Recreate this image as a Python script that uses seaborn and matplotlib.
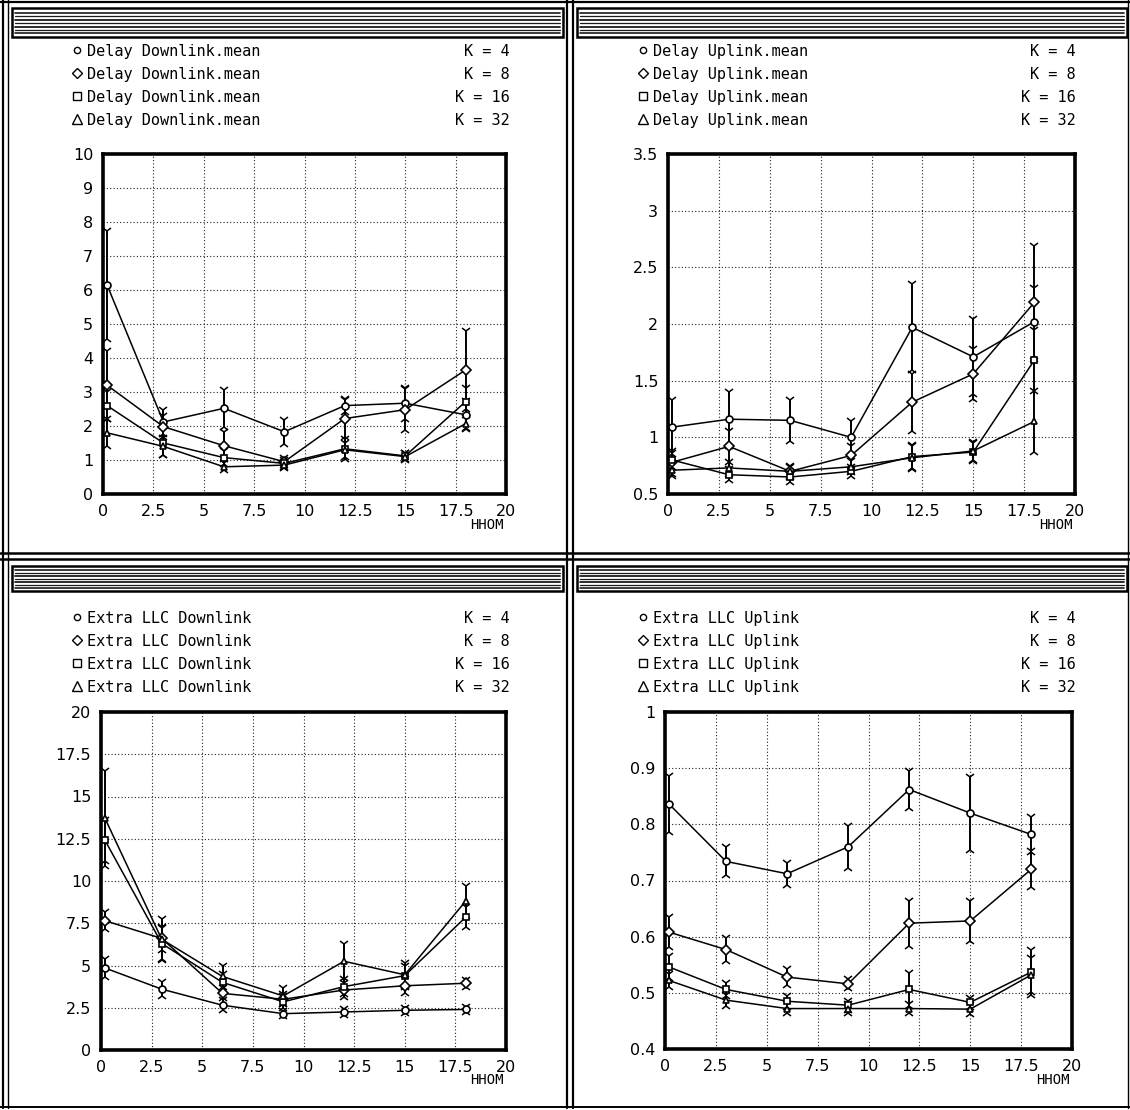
import numpy as np
import pandas as pd
import matplotlib
matplotlib.use("Agg")
import matplotlib.pyplot as plt
import seaborn as sns
from matplotlib.lines import Line2D
from matplotlib.patches import Rectangle

# ---------------------------------------------------------------- data
hhom = [0.2, 3, 6, 9, 12, 15, 18]
k_values = [4, 8, 16, 32]
x_ticks = [0, 2.5, 5, 7.5, 10, 12.5, 15, 17.5, 20]
x_tick_labels = ["0", "2.5", "5", "7.5", "10", "12.5", "15", "17.5", "20"]

# Delay Downlink.mean (mean and half-width of the confidence interval)
delay_dl = {
    4:  [6.15, 2.12, 2.52, 1.83, 2.60, 2.67, 2.33],
    8:  [3.20, 1.98, 1.42, 0.95, 2.22, 2.48, 3.65],
    16: [2.60, 1.50, 1.07, 0.90, 1.33, 1.12, 2.72],
    32: [1.80, 1.40, 0.80, 0.85, 1.30, 1.10, 2.07],
}
delay_dl_err = {
    4:  [1.60, 0.35, 0.55, 0.35, 0.20, 0.45, 0.40],
    8:  [1.00, 0.30, 0.40, 0.10, 0.55, 0.60, 1.15],
    16: [0.40, 0.35, 0.20, 0.10, 0.30, 0.10, 0.40],
    32: [0.40, 0.25, 0.10, 0.08, 0.20, 0.10, 0.17],
}

# Delay Uplink.mean
delay_ul = {
    4:  [1.09, 1.16, 1.15, 1.00, 1.97, 1.71, 2.02],
    8:  [0.78, 0.92, 0.70, 0.84, 1.31, 1.56, 2.19],
    16: [0.80, 0.67, 0.65, 0.70, 0.83, 0.87, 1.68],
    32: [0.71, 0.73, 0.70, 0.74, 0.82, 0.88, 1.14],
}
delay_ul_err = {
    4:  [0.24, 0.24, 0.18, 0.14, 0.38, 0.33, 0.30],
    8:  [0.10, 0.14, 0.05, 0.08, 0.25, 0.22, 0.50],
    16: [0.06, 0.05, 0.04, 0.04, 0.10, 0.08, 0.27],
    32: [0.05, 0.05, 0.04, 0.05, 0.10, 0.08, 0.27],
}

# Extra LLC Downlink
llc_dl = {
    4:  [4.85, 3.60, 2.65, 2.15, 2.25, 2.35, 2.40],
    8:  [7.65, 6.60, 3.35, 3.00, 3.55, 3.80, 3.95],
    16: [12.4, 6.30, 4.00, 2.85, 3.75, 4.40, 7.85],
    32: [13.7, 6.55, 4.35, 3.20, 5.25, 4.45, 8.80],
}
llc_dl_err = {
    4:  [0.55, 0.40, 0.30, 0.15, 0.15, 0.15, 0.15],
    8:  [0.50, 0.70, 0.30, 0.30, 0.40, 0.40, 0.20],
    16: [1.20, 0.90, 0.50, 0.35, 0.45, 0.60, 0.60],
    32: [2.80, 1.20, 0.60, 0.45, 1.00, 0.70, 0.90],
}

# Extra LLC Uplink
llc_ul = {
    4:  [0.836, 0.734, 0.712, 0.760, 0.862, 0.820, 0.782],
    8:  [0.608, 0.577, 0.528, 0.516, 0.624, 0.628, 0.720],
    16: [0.546, 0.506, 0.485, 0.478, 0.506, 0.483, 0.537],
    32: [0.522, 0.487, 0.472, 0.472, 0.472, 0.471, 0.532],
}
llc_ul_err = {
    4:  [0.050, 0.025, 0.020, 0.037, 0.033, 0.065, 0.031],
    8:  [0.027, 0.020, 0.014, 0.008, 0.040, 0.035, 0.032],
    16: [0.020, 0.012, 0.010, 0.008, 0.030, 0.008, 0.040],
    32: [0.012, 0.010, 0.008, 0.008, 0.008, 0.008, 0.030],
}

panels = [
    # (series label, means, errors, y ticks, y tick labels, axes box in px, key position px)
    ("Delay Downlink.mean", delay_dl, delay_dl_err,
     list(range(0, 11)), [str(v) for v in range(0, 11)],
     (103, 154, 506, 494), (77, 50, 510)),
    ("Delay Uplink.mean", delay_ul, delay_ul_err,
     [0.5, 1, 1.5, 2, 2.5, 3, 3.5], ["0.5", "1", "1.5", "2", "2.5", "3", "3.5"],
     (668, 154, 1075, 494), (643, 50, 1076)),
    ("Extra LLC Downlink", llc_dl, llc_dl_err,
     [0, 2.5, 5, 7.5, 10, 12.5, 15, 17.5, 20],
     ["0", "2.5", "5", "7.5", "10", "12.5", "15", "17.5", "20"],
     (101, 712, 506, 1050), (77, 617, 510)),
    ("Extra LLC Uplink", llc_ul, llc_ul_err,
     [0.4, 0.5, 0.6, 0.7, 0.8, 0.9, 1.0],
     ["0.4", "0.5", "0.6", "0.7", "0.8", "0.9", "1"],
     (665, 712, 1072, 1049), (643, 617, 1076)),
]

markers = {4: "o", 8: "D", 16: "s", 32: "^"}
key_marker_sizes = {4: 4.5, 8: 5.5, 16: 5.5, 32: 7}

# ---------------------------------------------------------------- style
sns.set_theme(style="white")
plt.rcParams["font.family"] = ["DejaVu Sans", "DejaVu Sans Mono"]
plt.rcParams["axes.edgecolor"] = "black"

W, H = 1130, 1110
fig = plt.figure(figsize=(W / 100, H / 100), dpi=100)
fig.patch.set_facecolor("white")


def fx(x):
    return x / W


def fy(y):
    return 1 - y / H


def hline(x0, x1, y, lw=1.0, color="black"):
    fig.add_artist(Line2D([fx(x0), fx(x1)], [fy(y), fy(y)], lw=lw, color=color,
                          transform=fig.transFigure))


def vline(x, y0, y1, lw=1.0, color="black"):
    fig.add_artist(Line2D([fx(x), fx(x)], [fy(y0), fy(y1)], lw=lw, color=color,
                          transform=fig.transFigure))


# window frames: double rules around and between the four panels
vline(3, 0, 1108, lw=1.6)
vline(8, 0, 1108, lw=1.0)
vline(567, 0, 1108, lw=1.6)
vline(573, 0, 1108, lw=1.6)
hline(0, 1130, 2, lw=1.6)
hline(0, 1130, 553, lw=1.8)
hline(0, 1130, 559, lw=1.8)
hline(0, 1130, 1107, lw=1.4)
vline(1128, 0, 1108, lw=1.0)


def title_bar(x0, x1, y0, y1):
    fig.add_artist(Rectangle((fx(x0), fy(y1)), fx(x1) - fx(x0), fy(y0) - fy(y1),
                             fill=False, lw=1.8, edgecolor="black",
                             transform=fig.transFigure))
    span = y1 - y0
    for frac, lw in [(0.16, 1.2), (0.28, 0.9), (0.40, 1.3), (0.52, 0.9),
                     (0.64, 1.3), (0.76, 0.9), (0.87, 1.2)]:
        hline(x0 + 3, x1 - 3, y0 + frac * span, lw=lw, color="#1a1a1a")


title_bar(12, 563, 8, 37)
title_bar(577, 1127, 8, 37)
title_bar(12, 563, 566, 591)
title_bar(577, 1127, 566, 591)

# ---------------------------------------------------------------- panels
for label, means, errs, yticks, ylabels, box, key in panels:
    x0, y0, x1, y1 = box
    ax = fig.add_axes([fx(x0), fy(y1), fx(x1) - fx(x0), fy(y0) - fy(y1)])

    rows = []
    for k in k_values:
        for h, v in zip(hhom, means[k]):
            rows.append({"hhom": h, "value": v, "K": k})
    df = pd.DataFrame(rows)

    sns.lineplot(data=df, x="hhom", y="value", hue="K", style="K",
                 palette={k: "black" for k in k_values},
                 markers=markers, dashes=False, legend=False, ax=ax,
                 lw=1.1, markersize=5, markerfacecolor="white",
                 markeredgecolor="black", markeredgewidth=1.2, zorder=3)

    # confidence intervals with Y-shaped end marks
    for k in k_values:
        m = np.array(means[k])
        e = np.array(errs[k])
        ax.errorbar(hhom, m, yerr=e, fmt="none", ecolor="black",
                    elinewidth=1.4, capsize=0, zorder=2)
        ax.plot(hhom, m + e, linestyle="none", marker="1", ms=7.5,
                mew=1.1, color="black", zorder=2)
        ax.plot(hhom, m - e, linestyle="none", marker="2", ms=7.5,
                mew=1.1, color="black", zorder=2)

    ax.set_xlim(0, 20)
    ax.set_ylim(yticks[0], yticks[-1])
    ax.set_xticks(x_ticks)
    ax.set_xticklabels(x_tick_labels)
    ax.set_yticks(yticks)
    ax.set_yticklabels(ylabels)
    ax.set_xlabel("")
    ax.set_ylabel("")
    ax.tick_params(length=0, labelsize=11.5, pad=7, colors="black")
    ax.grid(True, color="#222222", lw=0.8, linestyle=(0, (1, 2)))
    for sp in ax.spines.values():
        sp.set_linewidth(2.6)
        sp.set_color("black")
    ax.set_facecolor("white")

    # axis name under the right end of the x axis
    fig.text(fx(x1 - 2), fy(y1 + 29), "HHOM", ha="right", va="center_baseline",
             fontsize=10, family=["DejaVu Sans Mono"], color="black")

    # key: one line per K
    mx, ly, kx = key
    for i, k in enumerate(k_values):
        yy = ly + 23 * i
        fig.add_artist(Line2D([fx(mx)], [fy(yy)], marker=markers[k],
                              ms=key_marker_sizes[k], mfc="none",
                              mec="black", mew=1.0, linestyle="none",
                              transform=fig.transFigure))
        fig.text(fx(mx + 10), fy(yy), label, ha="left", va="center_baseline",
                 fontsize=11, family=["DejaVu Sans Mono"], color="black")
        fig.text(fx(kx), fy(yy), f"K = {k}", ha="right", va="center_baseline",
                 fontsize=11, family=["DejaVu Sans Mono"], color="black")

fig.savefig("out.png", dpi=100, facecolor="white")
